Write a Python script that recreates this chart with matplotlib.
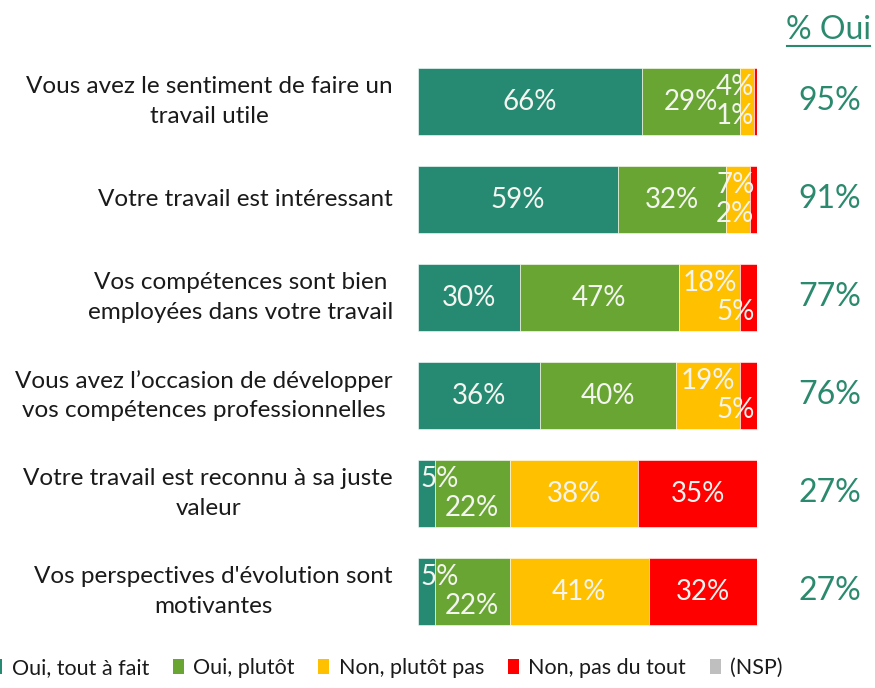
import numpy as np
import matplotlib
matplotlib.use("Agg")
import matplotlib.pyplot as plt
from matplotlib.patches import Patch
from matplotlib.lines import Line2D

plt.rcParams['font.family'] = ['Lato', 'DejaVu Sans']

categories = [
    "Vous avez le sentiment de faire un\ntravail utile",
    "Votre travail est intéressant",
    "Vos compétences sont bien\nemployées dans votre travail",
    "Vous avez l\u2019occasion de développer\nvos compétences professionnelles",
    "Votre travail est reconnu à sa juste\nvaleur",
    "Vos perspectives d'évolution sont\nmotivantes",
]
series = ["Oui, tout à fait", "Oui, plutôt", "Non, plutôt pas", "Non, pas du tout", "(NSP)"]
tout_a_fait = [66, 59, 30, 36, 5, 5]
plutot_oui = [29, 32, 47, 40, 22, 22]
plutot_pas = [4, 7, 18, 19, 38, 41]
pas_du_tout = [1, 2, 5, 5, 35, 32]
nsp = [0, 0, 0, 0, 0, 0]

colors = ["#268a73", "#69a532", "#ffc000", "#ff0000", "#bfbfbf"]
teal = "#2b8a6e"

values = np.array([tout_a_fait, plutot_oui, plutot_pas, pas_du_tout, nsp], dtype=float)
oui = values[0] + values[1]

fig = plt.figure(figsize=(8.75, 6.88), dpi=100)
ax = fig.add_axes([418 / 875, 1 - 640.5 / 688, 339 / 875, 588 / 688])

y = np.arange(len(categories))
left = np.zeros(len(categories))
for k in range(len(series)):
    ax.barh(y, values[k], left=left, height=0.68, color=colors[k],
            edgecolor="white", linewidth=0.4)
    left += values[k]

# segment labels; small segments get stacked with their neighbour
for i in range(len(categories)):
    segs = [(k, values[k, i]) for k in range(len(series)) if values[k, i] > 0]
    offs = {k: 0.0 for k, _ in segs}
    if segs[-1][1] < 10:
        offs[segs[-2][0]] = -0.15
        offs[segs[-1][0]] = 0.15
    elif segs[0][1] < 10:
        offs[segs[0][0]] = -0.15
        offs[segs[1][0]] = 0.15
    start = 0.0
    for k, v in segs:
        c = start + v / 2
        w = len("%d%%" % v) * 6.4
        x0 = c - w / 2
        x1 = c + w / 2
        if x1 > 100:
            c -= x1 - 100
        if x0 < 0:
            c -= x0
        ax.text(c, i + offs[k], "%d%%" % v, ha="center", va="center",
                color="#f4f4f0", fontsize=20)
        start += v

for i, lab in enumerate(categories):
    ax.text(-7.4, i, lab, ha="right", va="center", multialignment="center",
            fontsize=17.5, color="#1a1a1a", linespacing=1.5)
    ax.text(121.5, i, "%d%%" % oui[i], ha="center", va="center",
            fontsize=23, color=teal)

ax.set_xlim(0, 100)
ax.set_ylim(len(categories) - 0.5, -0.5)
ax.axis("off")

fig.text(828 / 875, 1 - 30 / 688, "% Oui", ha="center", va="center",
         fontsize=23, color=teal)
fig.add_artist(Line2D([787 / 875, 870 / 875], [1 - 46 / 688, 1 - 46 / 688],
                      color=teal, linewidth=1.5))

handles = [Patch(facecolor=c, edgecolor="none") for c in colors]
fig.legend(handles, series, loc="center left", bbox_to_anchor=(-0.010, 1 - 668 / 688),
           ncol=5, frameon=False, fontsize=15.5, handlelength=0.5, handleheight=0.7,
           handletextpad=0.45, columnspacing=1.1, labelcolor="#1a1a1a",
           borderaxespad=0, borderpad=0)

fig.savefig("out.png", dpi=100)
